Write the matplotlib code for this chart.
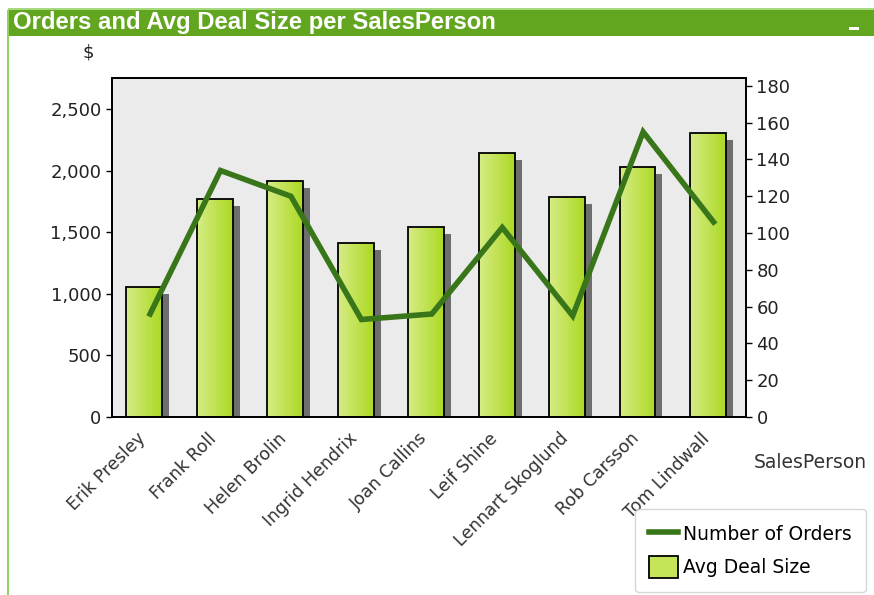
import matplotlib.pyplot as plt
import numpy as np
from matplotlib.lines import Line2D
from matplotlib.patches import Patch, Rectangle
from matplotlib.colors import LinearSegmentedColormap

plt.rcParams['font.family'] = ['DejaVu Sans']

SALES_PEOPLE = ["Erik Presley", "Frank Roll", "Helen Brolin", "Ingrid Hendrix",
                "Joan Callins", "Leif Shine", "Lennart Skoglund", "Rob Carsson",
                "Tom Lindwall"]
AVG_DEAL_SIZE = [1053, 1767, 1915, 1412, 1542, 2143, 1786, 2029, 2308]
NUM_ORDERS = [56, 134, 120, 53, 56, 103, 55, 155, 106]

LEFT_TICKS = [0, 500, 1000, 1500, 2000, 2500]
RIGHT_TICKS = list(range(0, 181, 20))

BAR_LIGHT = "#d6ec86"
BAR_DARK = "#acd923"
LINE_GREEN = "#39761a"
PLOT_BG = "#ebebeb"
HEADER_GREEN = "#62a51f"
TEXT = "#222222"

W, H = 874, 595
fig = plt.figure(figsize=(W / 100, H / 100), dpi=100)

# window frame: header band, thin light line above, green left edge
fig.patches.append(Rectangle((8 / W, 1 - 36 / H), 1, 26 / H, transform=fig.transFigure,
                             facecolor=HEADER_GREEN, edgecolor='none'))
fig.patches.append(Rectangle((8 / W, 1 - 10 / H), 1, 2 / H, transform=fig.transFigure,
                             facecolor="#a8d880", edgecolor='none'))
fig.patches.append(Rectangle((7 / W, 0), 2 / W, 1 - 10 / H, transform=fig.transFigure,
                             facecolor="#8fd05e", edgecolor='none'))
fig.patches.append(Rectangle((849 / W, 1 - 30 / H), 10 / W, 3 / H, transform=fig.transFigure,
                             facecolor="white", edgecolor='none'))
fig.text(13 / W, 1 - 22 / H, "Orders and Avg Deal Size per SalesPerson",
         family=['Liberation Sans Narrow', 'DejaVu Sans Condensed', 'Liberation Sans'],
         fontsize=17.2, fontweight='bold', color='white', va='center', ha='left')

ax = fig.add_axes([112 / W, 1 - 417 / H, 634 / W, 339 / H])
ax.set_facecolor(PLOT_BG)

x = np.arange(len(SALES_PEOPLE))
bar_w = 0.51
ymax = 2752
px_y = ymax / 339.0
px_x = len(SALES_PEOPLE) / 634.0

# drop shadows behind the bars
vals = np.array(AVG_DEAL_SIZE, dtype=float)
ax.bar(x - 0.04 + 7 * px_x, vals - 7 * px_y, width=bar_w, color="#6e6e6e",
       edgecolor='none', zorder=1)

bars = ax.bar(x - 0.04, vals, width=bar_w, color='none', edgecolor='black',
              linewidth=1.3, zorder=3)

cmap = LinearSegmentedColormap.from_list("bar", [BAR_LIGHT, BAR_DARK])
grad = np.linspace(0, 1, 64).reshape(1, -1)
for b in bars:
    x0, w, h = b.get_x(), b.get_width(), b.get_height()
    im = ax.imshow(grad, cmap=cmap, aspect='auto', extent=[x0, x0 + w, 0, h],
                   zorder=2, interpolation='bilinear')
    clip = Rectangle((x0, 0), w, h, transform=ax.transData)
    im.set_clip_path(clip)

ax.set_xlim(-0.5, len(SALES_PEOPLE) - 0.5)
ax.set_ylim(0, ymax)
ax.set_yticks(LEFT_TICKS)
ax.set_yticklabels([f"{v:,}" for v in LEFT_TICKS])
ax.set_xticks(x - 0.15)
ax.set_xticklabels(SALES_PEOPLE, rotation=45, ha='right', rotation_mode='anchor')
ax.tick_params(axis='x', length=0, pad=9, labelsize=12.5, labelcolor='#333333')
ax.tick_params(axis='y', length=4, width=1, labelsize=13, labelcolor=TEXT)
for s in ax.spines.values():
    s.set_linewidth(1.3)

ax2 = ax.twinx()
ax2.plot(x + 0.04, NUM_ORDERS, color=LINE_GREEN, linewidth=4, zorder=5,
         solid_joinstyle='miter')
ax2.set_ylim(0, 184.3)
ax2.set_yticks(RIGHT_TICKS)
ax2.tick_params(axis='y', length=4, width=1, labelsize=13, labelcolor=TEXT)
for s in ax2.spines.values():
    s.set_linewidth(1.3)

fig.text(88 / W, 1 - 52 / H, "$", fontsize=13, ha='center', va='center', color=TEXT)
fig.text(810 / W, 1 - 462 / H, "SalesPerson", fontsize=13.5, ha='center', va='center',
         color='#333333')

handles = [Line2D([], [], color=LINE_GREEN, linewidth=4),
           Patch(facecolor="#c4e45a", edgecolor='black', linewidth=1.3)]
leg = fig.legend(handles, ["Number of Orders", "Avg Deal Size"],
                 loc='upper right', bbox_to_anchor=(866 / W, 1 - 509 / H),
                 fontsize=13.5, frameon=True, fancybox=True, edgecolor='#cccccc',
                 handlelength=1.5, handleheight=1.4, handletextpad=0.3,
                 borderpad=0.75, labelspacing=0.6, borderaxespad=0)
leg.get_frame().set_linewidth(1)

fig.savefig("out.png", dpi=100)
